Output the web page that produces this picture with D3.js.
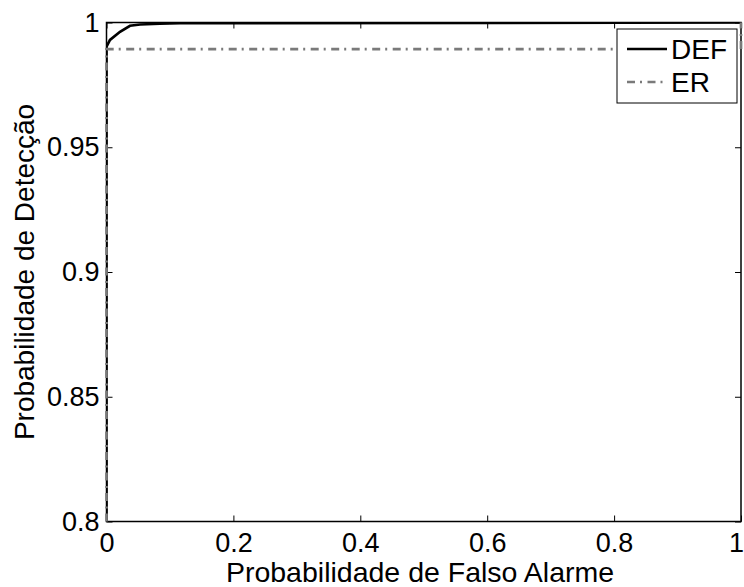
<!DOCTYPE html>
<html>
<head>
<meta charset="utf-8">
<script src="https://cdn.jsdelivr.net/npm/d3@7/dist/d3.min.js"></script>
<style>
  body { margin: 0; background: #fff; }
  svg { display: block; font-family: Arial, "Liberation Sans", sans-serif; }
</style>
</head>
<body>
<div id="chart"></div>
<script>
// ROC points
var defFpr = [0, 0, 0.0055, 0.0213, 0.037, 0.053, 0.084, 0.116, 1];
var defPd  = [0.8, 0.9903, 0.9930, 0.9963, 0.9987, 0.9992, 0.9995, 0.9997, 1];
var erFpr  = [0, 0, 1, 1];
var erPd   = [0.8, 0.9893, 0.9893, 1];

var xTicks = [0, 0.2, 0.4, 0.6, 0.8, 1];
var yTicks = [0.8, 0.85, 0.9, 0.95, 1];
var seriesNames = ["DEF", "ER"];

var W = 744, H = 587;
var margin = { top: 22.5, right: 3, bottom: 65.5, left: 106.5 };
var width = W - margin.left - margin.right;
var height = H - margin.top - margin.bottom;

var svg = d3.select("#chart").append("svg")
    .attr("width", W)
    .attr("height", H);

var g = svg.append("g")
    .attr("transform", "translate(" + margin.left + "," + margin.top + ")");

var x = d3.scaleLinear().domain([0, 1]).range([0, width]);
var y = d3.scaleLinear().domain([0.8, 1]).range([height, 0]);

g.append("clipPath").attr("id", "clip")
  .append("rect").attr("width", width).attr("height", height);

// axes, ticks pointing inward like matlab
var fmt = function(d) { return String(+d.toFixed(2)); };

g.append("g")
    .attr("class", "x-axis")
    .attr("transform", "translate(0," + height + ")")
    .call(d3.axisBottom(x).tickValues(xTicks).tickFormat(fmt).tickSizeInner(-6).tickSizeOuter(0).tickPadding(11));

g.append("g")
    .attr("class", "x-top")
    .call(d3.axisTop(x).tickValues(xTicks).tickFormat("").tickSizeInner(-6).tickSizeOuter(0));

g.append("g")
    .attr("class", "y-axis")
    .call(d3.axisLeft(y).tickValues(yTicks).tickFormat(fmt).tickSizeInner(-6).tickSizeOuter(0).tickPadding(7));

g.append("g")
    .attr("class", "y-right")
    .attr("transform", "translate(" + width + ",0)")
    .call(d3.axisRight(y).tickValues(yTicks).tickFormat("").tickSizeInner(-6).tickSizeOuter(0));

g.selectAll(".domain").remove();
g.selectAll(".tick line").attr("stroke", "#000").attr("stroke-width", 1);
g.selectAll(".tick text").attr("fill", "#000").style("font-size", "27px");
// last x label sits at the page edge, keep it inside
g.selectAll(".x-axis .tick text").filter(function(d) { return d === 1; })
    .attr("text-anchor", "end")
    .attr("dx", "2.5");

// curves
var line = d3.line()
    .x(function(d) { return x(d[0]); })
    .y(function(d) { return y(d[1]); });

var defData = defFpr.map(function(v, i) { return [v, defPd[i]]; });
var erData = erFpr.map(function(v, i) { return [v, erPd[i]]; });

var plot = g.append("g").attr("clip-path", "url(#clip)");

plot.append("path")
    .datum(defData)
    .attr("d", line)
    .attr("fill", "none")
    .attr("stroke", "#000")
    .attr("stroke-width", 2.7);

// box
g.append("rect")
    .attr("width", width)
    .attr("height", height)
    .attr("fill", "none")
    .attr("stroke", "#000")
    .attr("stroke-width", 1.5);

g.append("path")
    .datum(erData)
    .attr("d", line)
    .attr("fill", "none")
    .attr("stroke", "#7a7a7a")
    .attr("stroke-width", 2.7)
    .attr("stroke-dasharray", "8,5,2,5.5");

// legend
var leg = svg.append("g").attr("transform", "translate(617,29)");
leg.append("rect")
    .attr("width", 120)
    .attr("height", 74)
    .attr("fill", "#fff")
    .attr("stroke", "#000")
    .attr("stroke-width", 1);

var legStyles = [
  { stroke: "#000", dash: null },
  { stroke: "#7a7a7a", dash: "8,5,2,5.5" }
];

seriesNames.forEach(function(name, i) {
  var yy = 20 + i * 33;
  leg.append("line")
      .attr("x1", 10).attr("x2", 50)
      .attr("y1", yy).attr("y2", yy)
      .attr("stroke", legStyles[i].stroke)
      .attr("stroke-width", 2.7)
      .attr("stroke-dasharray", legStyles[i].dash);
  leg.append("text")
      .attr("x", 54)
      .attr("y", yy)
      .attr("dy", "0.36em")
      .style("font-size", "28px")
      .text(name);
});

// axis titles
svg.append("text")
    .attr("x", 420)
    .attr("y", 582)
    .attr("text-anchor", "middle")
    .style("font-size", "28.5px")
    .text("Probabilidade de Falso Alarme");

svg.append("text")
    .attr("transform", "translate(34," + (margin.top + height / 2) + ") rotate(-90)")
    .attr("text-anchor", "middle")
    .style("font-size", "28px")
    .text("Probabilidade de Detecção");
</script>
</body>
</html>
